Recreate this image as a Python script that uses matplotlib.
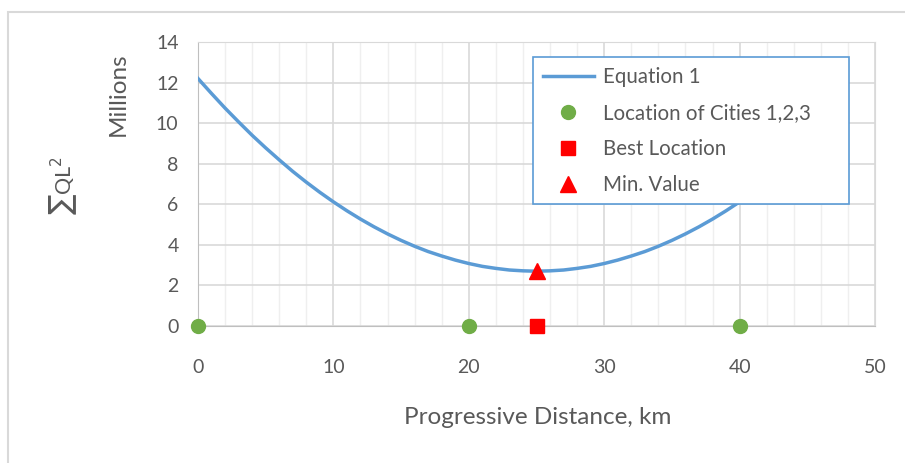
import matplotlib
matplotlib.use("Agg")
import matplotlib.pyplot as plt

# Data (millions), every 1 km
dist_km = list(range(0, 41))
sum_ql2 = [12.20, 11.46, 10.74, 10.06, 9.40, 8.78, 8.19, 7.62, 7.09, 6.59,
           6.12, 5.68, 5.27, 4.89, 4.54, 4.22, 3.93, 3.67, 3.45, 3.25,
           3.08, 2.94, 2.84, 2.76, 2.72, 2.70, 2.72, 2.76, 2.84, 2.94,
           3.08, 3.25, 3.45, 3.67, 3.93, 4.22, 4.54, 4.89, 5.27, 5.68, 6.12]
cities_x = [0, 20, 40]
cities_y = [0, 0, 0]
best_x = [25]
best_y = [0]
min_x = [25]
min_y = [2.7]
x_ticks = [0, 10, 20, 30, 40, 50]
y_ticks = [0, 2, 4, 6, 8, 10, 12, 14]

plt.rcParams['font.family'] = ['Lato', 'DejaVu Sans']
txt = '#595959'

fig = plt.figure(figsize=(9.05, 4.63), dpi=100)
fig.patches.append(plt.Rectangle((8/905, -0.1), 1.5, 1.1 - 12/463, transform=fig.transFigure,
                                 fill=False, edgecolor='#d9d9d9', linewidth=1.5))
ax = fig.add_axes([198/905, 1 - 326/463, 677/905, 284/463])

ax.set_xlim(0, 50)
ax.set_ylim(0, 14)
ax.set_xticks(x_ticks)
ax.set_yticks(y_ticks)
ax.set_xticks([v for v in range(0, 51, 2) if v % 10 != 0], minor=True)
ax.grid(True, which='major', color='#d9d9d9', linewidth=1.2)
ax.grid(True, which='minor', axis='x', color='#efefef', linewidth=1.0)
ax.set_axisbelow(True)
for s in ax.spines.values():
    s.set_color('#d9d9d9')
ax.spines['left'].set_color('#bfbfbf')
ax.spines['bottom'].set_color('#bfbfbf')
ax.tick_params(which='both', length=0)
ax.tick_params(axis='x', pad=24, labelsize=14, labelcolor=txt)
ax.tick_params(axis='y', pad=14, labelsize=14, labelcolor=txt)

ax.plot(dist_km, sum_ql2, color='#5b9bd5', linewidth=2.5, label='Equation 1', zorder=3)
ax.plot(cities_x, cities_y, linestyle='none', marker='o', markersize=10, color='#70ad47',
        label='Location of Cities 1,2,3', clip_on=False, zorder=4)
ax.plot(best_x, best_y, linestyle='none', marker='s', markersize=10, color='#ff0000',
        label='Best Location', clip_on=False, zorder=4)
ax.plot(min_x, min_y, linestyle='none', marker='^', markersize=11, color='#ff0000',
        label='Min. Value', clip_on=False, zorder=4)

leg = ax.legend(loc='upper left', bbox_to_anchor=(0.495, 0.433, 0.467, 0.514), mode='expand',
                borderaxespad=0, fancybox=False, frameon=True, fontsize=14.8,
                handlelength=2.5, labelspacing=0.78, borderpad=0.47, handletextpad=0.45)
leg.get_frame().set_edgecolor('#5b9bd5')
leg.get_frame().set_linewidth(1.2)
leg.get_frame().set_alpha(1)
for t in leg.get_texts():
    t.set_color(txt)
leg.set_zorder(10)

fig.text(538/905, 1 - 418/463, 'Progressive Distance, km', ha='center', va='center',
         fontsize=17.5, color=txt)
fig.text(118/905, 1 - 94/463, 'Millions', ha='center', va='center', rotation=90,
         fontsize=17.5, color=txt)
fig.text(63/905, 1 - 185/463, r'∑QL$^2$', ha='center', va='center', rotation=90,
         fontsize=15.5, color=txt)

fig.savefig('out.png', dpi=100)
